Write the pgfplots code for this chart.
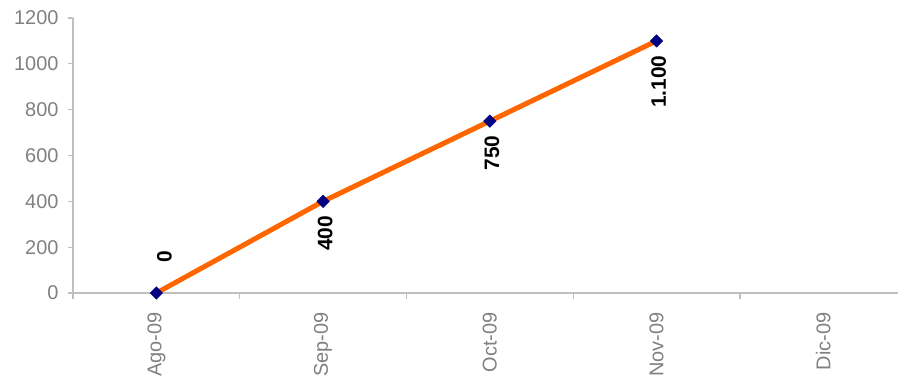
\documentclass[border=0pt]{standalone}
\usepackage{pgfplots}
\pgfplotsset{compat=1.18}
\usepackage{fontspec}
\setmainfont{Liberation Sans}
\definecolor{axgray}{HTML}{BFBFBF}
\definecolor{txtgray}{HTML}{808080}
\definecolor{lineorange}{HTML}{FF6600}
\definecolor{marknavy}{HTML}{000080}
\begin{document}
\begin{tikzpicture}
\begin{axis}[
  at={(0,0)}, anchor=south west,
  scale only axis, width=825bp, height=275bp,
  xmin=-0.5, xmax=4.448, ymin=0, ymax=1200,
  clip=false,
  axis x line=bottom, axis y line=left,
  axis line style={-, draw=axgray, line width=1.2bp},
  tick align=outside,
  xtick={0,1,2,3,4},
  xticklabels={Ago-09,Sep-09,Oct-09,Nov-09,Dic-09},
  major x tick style={draw=none},
  minor xtick={-0.5,0.5,1.5,2.5,3.5},
  minor x tick style={draw=axgray, line width=1.2bp},
  minor tick length=6bp,
  x tick label style={rotate=90, anchor=east, xshift=-11bp, font=\fontsize{20}{24}\selectfont, text=txtgray},
  ytick={0,200,400,600,800,1000,1200},
  y tick style={draw=axgray, line width=1.2bp},
  major tick length=5bp,
  y tick label style={xshift=-6bp, font=\fontsize{20}{24}\selectfont, text=txtgray},
  /pgf/number format/assume math mode=true,
  /pgf/number format/1000 sep={},
]
\addplot[line width=5bp, lineorange, mark=square*, mark size=4.4bp,
  mark options={rotate=45, fill=marknavy, draw=marknavy, line width=0.5bp}]
  coordinates {(0,0) (1,400) (2,750) (3,1100)};
\addplot[draw=none, mark=none, nodes near coords, point meta=explicit symbolic,
  nodes near coords style={rotate=90, anchor=east, xshift=-11bp, yshift=-2bp,
    font=\bfseries\fontsize{21}{25}\selectfont, text=black}]
  coordinates {(1,400) [400] (2,750) [750] (3,1100) [1.100]};
\addplot[draw=none, mark=none, nodes near coords, point meta=explicit symbolic,
  nodes near coords style={rotate=90, anchor=west, xshift=27bp, yshift=-8bp,
    font=\bfseries\fontsize{21}{25}\selectfont, text=black}]
  coordinates {(0,0) [0]};
\end{axis}
\pgfresetboundingbox
\path[use as bounding box] (-73bp,-89bp) rectangle (825bp,293bp);
\end{tikzpicture}
\end{document}
